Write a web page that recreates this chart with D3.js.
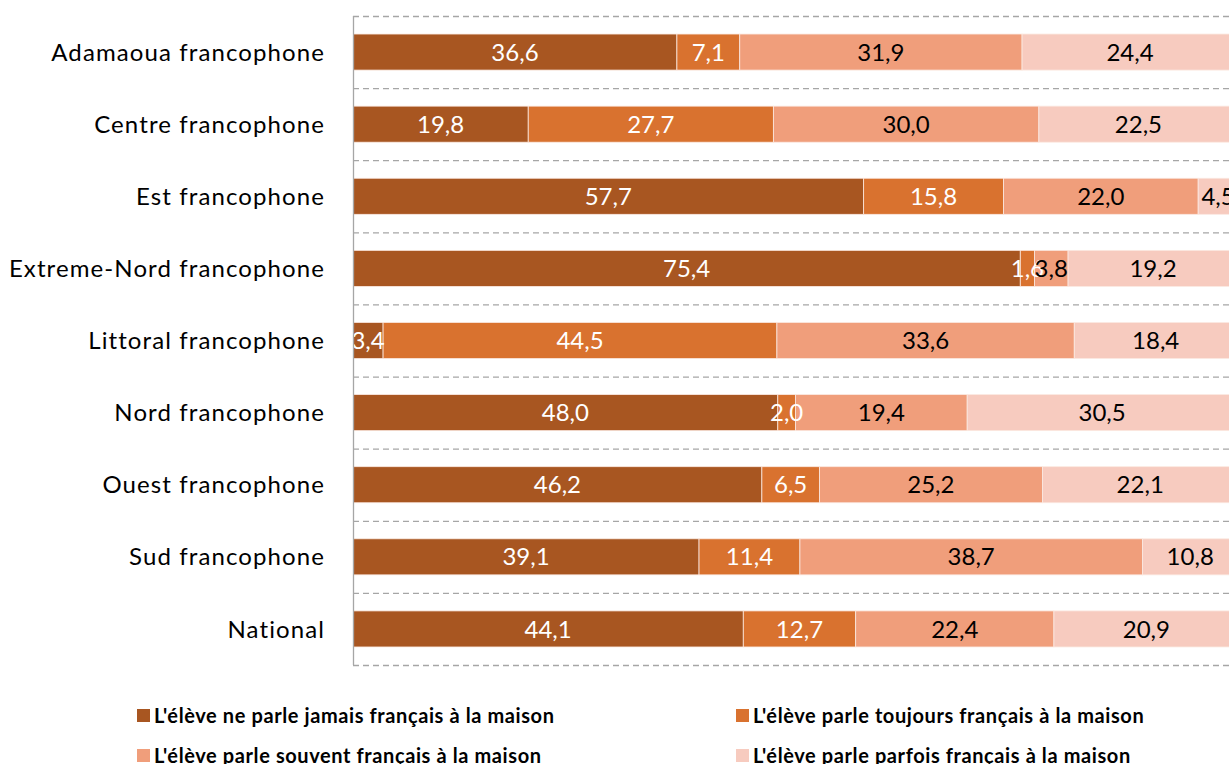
<!DOCTYPE html>
<html>
<head>
<meta charset="utf-8">
<script src="https://cdn.jsdelivr.net/npm/d3@7"></script>
<style>
  body { margin: 0; background: #fff; }
  svg { display: block; font-family: Lato, "Open Sans", sans-serif; }
</style>
</head>
<body>
<svg width="1229" height="764"></svg>
<script>
// regions and the four answers, in stacking order
var regions = ["Adamaoua francophone", "Centre francophone", "Est francophone",
    "Extreme-Nord francophone", "Littoral francophone", "Nord francophone",
    "Ouest francophone", "Sud francophone", "National"];

var seriesNames = [
    "L'élève ne parle jamais français à la maison",
    "L'élève parle toujours français à la maison",
    "L'élève parle souvent français à la maison",
    "L'élève parle parfois français à la maison"];

var jamais   = [36.6, 19.8, 57.7, 75.4, 3.4, 48.0, 46.2, 39.1, 44.1];
var toujours = [7.1, 27.7, 15.8, 1.6, 44.5, 2.0, 6.5, 11.4, 12.7];
var souvent  = [31.9, 30.0, 22.0, 3.8, 33.6, 19.4, 25.2, 38.7, 22.4];
var parfois  = [24.4, 22.5, 4.5, 19.2, 18.4, 30.5, 22.1, 10.8, 20.9];

var colors = ["#a85621", "#d9722f", "#f09e7b", "#f7cbbf"];
var labelColors = ["#fff", "#fff", "#000", "#000"];

var svg = d3.select("svg"),
    width = +svg.attr("width"),
    height = +svg.attr("height");

var plotLeft = 353, plotTop = 16, plotBottom = 665;

// the plot runs off the right edge of the picture (100% is past 1229px)
var x = d3.scaleLinear().domain([0, 100]).range([plotLeft, 1238]);
var y = d3.scaleBand().domain(regions).range([plotTop, plotBottom]).paddingInner(0.5).paddingOuter(0.25);

var table = regions.map(function(r, i) {
    return {region: r, s0: jamais[i], s1: toujours[i], s2: souvent[i], s3: parfois[i]};
});
var stack = d3.stack().keys(["s0", "s1", "s2", "s3"]);
var layers = stack(table);

svg.append("defs").append("clipPath").attr("id", "plotclip")
  .append("rect").attr("x", plotLeft).attr("y", 0).attr("width", width - plotLeft).attr("height", plotBottom);

// dashed separators between categories
var bounds = d3.range(regions.length + 1).map(function(i) {
    return plotTop + i * (plotBottom - plotTop) / regions.length;
});
svg.append("g").selectAll("line")
    .data(bounds)
    .enter().append("line")
    .attr("x1", plotLeft).attr("x2", width)
    .attr("y1", function(d) { return d + 0.5; })
    .attr("y2", function(d) { return d + 0.5; })
    .attr("stroke", "#a6a6a6")
    .attr("stroke-width", 1.3)
    .attr("stroke-dasharray", "6,4");

var plot = svg.append("g").attr("clip-path", "url(#plotclip)");

var layer = plot.selectAll("g.layer")
    .data(layers)
    .enter().append("g")
    .attr("class", "layer")
    .attr("fill", function(d, i) { return colors[i]; });

layer.selectAll("rect")
    .data(function(d) { return d; })
    .enter().append("rect")
    .attr("x", function(d) { return x(d[0]); })
    .attr("width", function(d) { return x(d[1]) - x(d[0]); })
    .attr("y", function(d) { return y(d.data.region); })
    .attr("height", y.bandwidth())
    .attr("stroke", "#fbe9e1")
    .attr("stroke-width", 0.8);

layers.forEach(function(l, i) {
    plot.append("g").selectAll("text")
        .data(l)
        .enter().append("text")
        .attr("x", function(d) { return (x(d[0]) + x(d[1])) / 2; })
        .attr("y", function(d) { return y(d.data.region) + y.bandwidth() / 2; })
        .attr("dy", "0.36em")
        .attr("text-anchor", "middle")
        .attr("font-size", "24px")
        .attr("fill", labelColors[i])
        .text(function(d) { return d3.format(".1f")(d[1] - d[0]).replace(".", ","); });
});

// vertical axis line
svg.append("line")
    .attr("x1", plotLeft + 0.5).attr("x2", plotLeft + 0.5)
    .attr("y1", plotTop).attr("y2", plotBottom)
    .attr("stroke", "#a6a6a6").attr("stroke-width", 1.3);

svg.append("g").selectAll("text")
    .data(regions)
    .enter().append("text")
    .attr("x", 325)
    .attr("y", function(d) { return y(d) + y.bandwidth() / 2; })
    .attr("dy", "0.36em")
    .attr("text-anchor", "end")
    .attr("font-size", "24px")
    .attr("letter-spacing", "1.1px")
    .attr("fill", "#000")
    .text(function(d) { return d; });

// legend, two columns
var legendPos = [[137, 709], [736, 709], [137, 749], [736, 749]];
var legend = svg.append("g").selectAll("g")
    .data(seriesNames)
    .enter().append("g")
    .attr("transform", function(d, i) { return "translate(" + legendPos[i][0] + "," + legendPos[i][1] + ")"; });

legend.append("rect")
    .attr("width", 13).attr("height", 13)
    .attr("fill", function(d, i) { return colors[i]; });

legend.append("text")
    .attr("x", 17)
    .attr("y", 7)
    .attr("dy", "0.36em")
    .attr("font-size", "20px")
    .attr("font-weight", "bold")
    .attr("letter-spacing", "0.6px")
    .attr("fill", "#000")
    .text(function(d) { return d; });
</script>
</body>
</html>
